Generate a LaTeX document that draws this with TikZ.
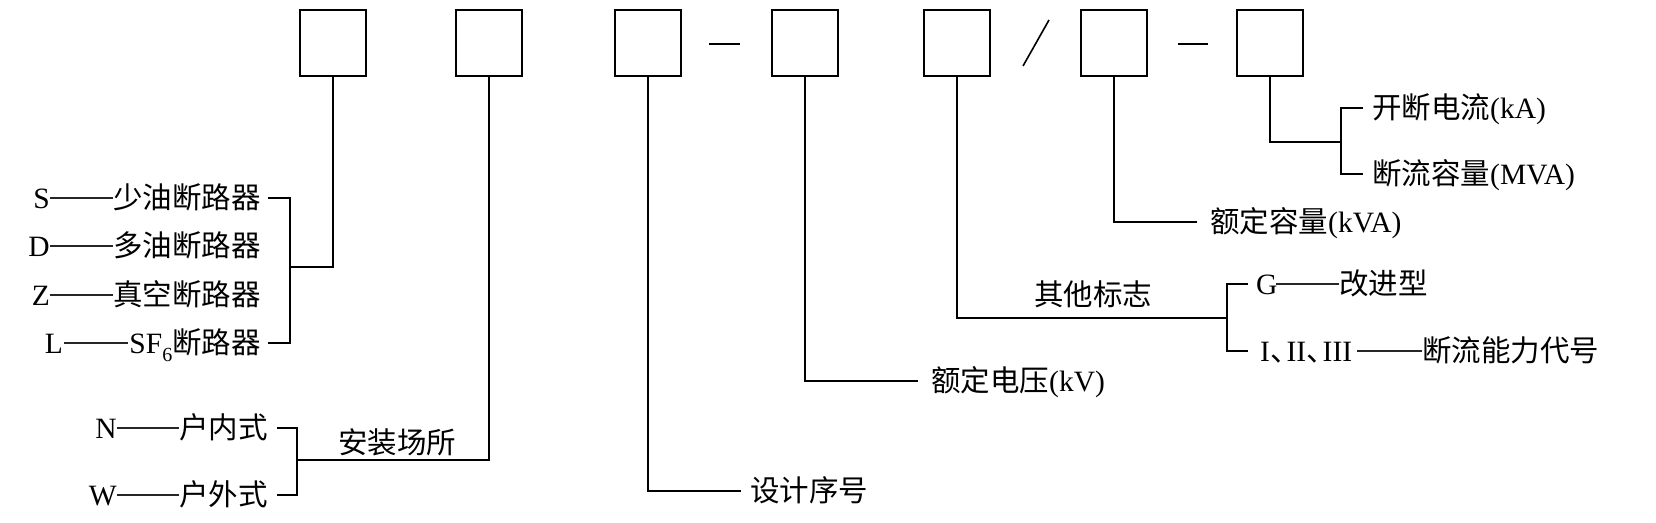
\documentclass[tikz,border=0pt]{standalone}
\usepackage{fontspec}
\setmainfont{Liberation Serif}
\newfontfamily\cjk{Noto Sans CJK SC}
\newcommand\zh[1]{{\cjk #1}}
\newcommand\dun{\makebox[0.56em][l]{\zh{、}}}
\begin{document}
\begin{tikzpicture}[x=1pt,y=-1pt,
  box/.style={draw,line width=1.8pt,minimum width=66pt,minimum height=66pt,inner sep=0pt},
  conn/.style={line width=1.8pt},
  thinln/.style={line width=1.2pt,black!85},
  lbl/.style={inner sep=0pt,font=\fontsize{29.5pt}{32pt}\selectfont}]
\useasboundingbox (0,0) rectangle (1656,522);
% boxes
\node[box] (b1) at (333,43) {};
\node[box] (b2) at (489,43) {};
\node[box] (b3) at (648,43) {};
\node[box] (b4) at (805,43) {};
\node[box] (b5) at (957,43) {};
\node[box] (b6) at (1114,43) {};
\node[box] (b7) at (1270,43) {};
% separators
\draw[line width=1.6pt] (709,44) -- (740,44);
\draw[line width=1.6pt] (1023,66) -- (1049,20);
\draw[line width=1.6pt] (1178,44) -- (1208,44);
% group 1: breaker types
\node[lbl,anchor=base east] (t1) at (261,208.5) {\zh{少油断路器}};
\node[lbl,anchor=base east] (t2) at (261,256.5) {\zh{多油断路器}};
\node[lbl,anchor=base east] (t3) at (261,305.5) {\zh{真空断路器}};
\node[lbl,anchor=base east] (t4) at (261,353.5) {SF\raisebox{-0.28em}{\fontsize{20pt}{20pt}\selectfont 6}\zh{断路器}};
\node[lbl,anchor=base east] (s1) at (50,208.5) {S};
\node[lbl,anchor=base east] (s2) at (50,256.5) {D};
\node[lbl,anchor=base east] (s3) at (50,305.5) {Z};
\node[lbl,anchor=base east] (s4) at (63,353.5) {L};
\draw[thinln] (50,198) -- (t1.west |- 0,198);
\draw[thinln] (50,246) -- (t2.west |- 0,246);
\draw[thinln] (50,295) -- (t3.west |- 0,295);
\draw[thinln] (64,343) -- ([xshift=-1pt]t4.west |- 0,343);
\coordinate (k1) at (290,267);
\draw[conn] (268,198) -| (290,343) -- (268,343);
\draw[conn] (b1.south) |- (k1);
% group 2: installation
\node[lbl,anchor=base east] (n1) at (268,438.5) {\zh{户内式}};
\node[lbl,anchor=base east] (n2) at (268,505.5) {\zh{户外式}};
\node[lbl,anchor=base east] (m1) at (117,438.5) {N};
\node[lbl,anchor=base east] (m2) at (117,505.5) {W};
\draw[thinln] (117,428) -- (n1.west |- 0,428);
\draw[thinln] (117,495) -- (n2.west |- 0,495);
\coordinate (k2) at (297,460);
\draw[conn] (277,428) -| (297,495) -- (277,495);
\draw[conn] (b2.south) |- (k2);
\node[lbl,anchor=base] (az) at (397,453.5) {\zh{安装场所}};
% design number
\node[lbl,anchor=base west] (sj) at (750,501.5) {\zh{设计序号}};
\draw[conn] (b3.south) |- ([xshift=-9pt]sj.west |- 0,491);
% rated voltage
\node[lbl,anchor=base west] (dy) at (931,391.5) {\zh{额定电压}(kV)};
\draw[conn] (b4.south) |- (918,381);
% other marks
\node[lbl,anchor=base] (qt) at (1093,305.5) {\zh{其他标志}};
\coordinate (k5) at (1227,318);
\draw[conn] (b5.south) |- (k5);
\draw[conn] (1248,284) -| (1227,351) -- (1248,351);
\node[lbl,anchor=base west] (g) at (1256,294.5) {G};
\node[lbl,anchor=base west] (gj) at (1339,294.5) {\zh{改进型}};
\draw[thinln] (1276,284) -- (gj.west |- 0,284);
\node[lbl,anchor=base west] (rn) at (1260,361.5) {I\dun II\dun III};
\node[lbl,anchor=base west] (dl) at (1422,361.5) {\zh{断流能力代号}};
\draw[thinln] ([xshift=5pt]rn.east |- 0,351) -- (dl.west |- 0,351);
% rated capacity
\node[lbl,anchor=base west] (rl) at (1210,232.5) {\zh{额定容量}(kVA)};
\draw[conn] (b6.south) |- (1197,222);
% breaking
\coordinate (k7) at (1341,142);
\draw[conn] (b7.south) |- (k7);
\draw[conn] (1363,108) -| (1341,174) -- (1363,174);
\node[lbl,anchor=base west] (kd) at (1372,118.5) {\zh{开断电流}(kA)};
\node[lbl,anchor=base west] (dr) at (1372,184.5) {\zh{断流容量}(MVA)};
\end{tikzpicture}
\end{document}
